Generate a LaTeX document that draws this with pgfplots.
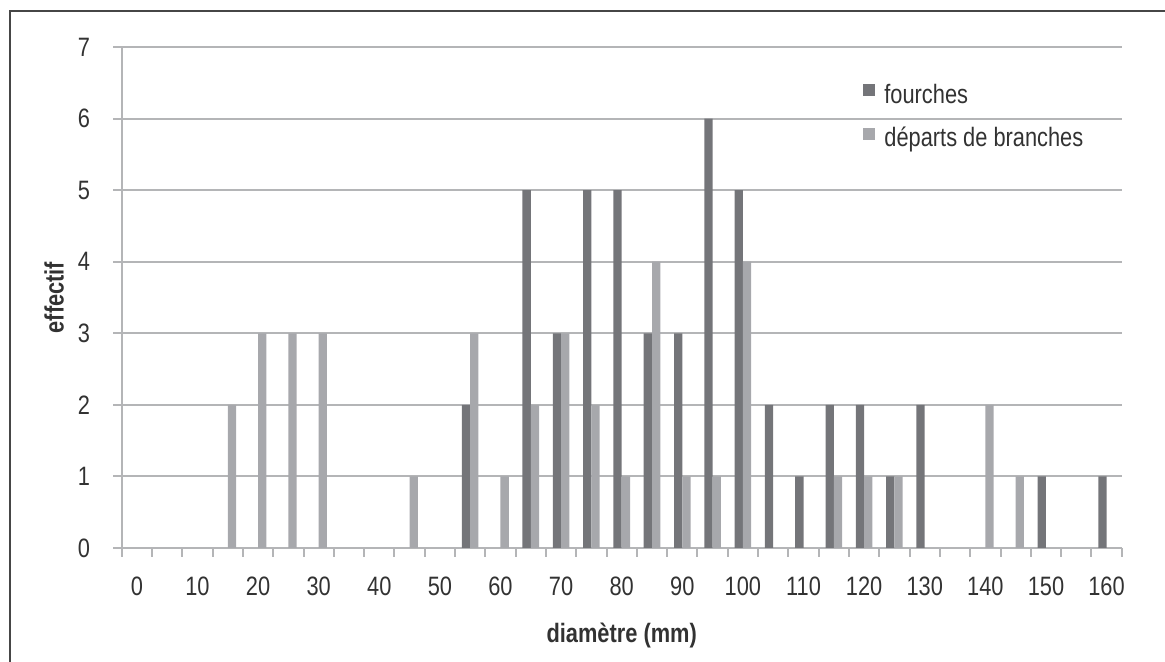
\documentclass[border=0pt]{standalone}
\usepackage{pgfplots}
\pgfplotsset{compat=1.18}
\usepackage{fontspec}
\setmainfont{Liberation Sans}[FakeStretch=0.82]
\definecolor{darkbar}{RGB}{116,117,121}
\definecolor{lightbar}{RGB}{167,168,172}
\definecolor{gridc}{RGB}{180,181,183}
\definecolor{txt}{RGB}{50,50,50}
\definecolor{framec}{RGB}{70,70,70}
\begin{document}
\begin{tikzpicture}[font=\fontsize{13.3pt}{15.5pt}\selectfont]
\path[use as bounding box] (-60.85pt,-57pt) rectangle (521.65pt,274pt);
\draw[framec, line width=0.8pt] (-55.85pt,-60pt) -- (-55.85pt,268.5pt) -- (525pt,268.5pt);
\begin{axis}[
  at={(0pt,0pt)}, anchor=south west,
  scale only axis, width=500pt, height=250.5pt,
  xmin=-2.5, xmax=162.5, ymin=0, ymax=7,
  ybar=0pt, bar width=4.15pt,
  axis x line*=bottom, axis y line*=left,
  axis line style={gridc, line width=1pt, -},
  xtick={0,10,...,160},
  minor xtick={-2.5,2.5,...,162.5},
  ytick={0,1,...,7},
  tick align=outside,
  major tick length=4.3pt, minor tick length=4.3pt,
  major x tick style={draw=none},
  minor x tick style={gridc, line width=1pt},
  major y tick style={gridc, line width=1pt},
  ymajorgrids, major grid style={gridc, line width=1pt},
  tick label style={text=txt},
  /pgf/number format/assume math mode=true,
  xticklabel style={anchor=center, yshift=-14.7pt},
  yticklabel style={anchor=east, xshift=-8pt},
  xlabel={\bfseries diamètre (mm)},
  ylabel={\bfseries effectif},
  every axis x label/.style={at={(axis description cs:0.5,-0.1756)}, anchor=center, text=txt},
  every axis y label/.style={at={(axis description cs:-0.0677,0.5)}, rotate=90, anchor=center, text=txt},
  legend style={at={(axis description cs:0.7413,0.858)}, anchor=west, draw=none, fill=none,
    inner sep=0pt, outer sep=0pt, row sep=9pt, column sep=4.5pt,
    nodes={inner sep=0pt, text=txt, text height=9.8pt, text depth=3pt}},
  legend cell align=left,
  legend image code/.code={\fill[#1] (0pt,0pt) rectangle (6.2pt,6.2pt);},
]
\addplot[fill=darkbar, draw=none] coordinates {
 (55,2) (65,5) (70,3) (75,5) (80,5) (85,3) (90,3) (95,6) (100,5) (105,2)
 (110,1) (115,2) (120,2) (125,1) (130,2) (150,1) (160,1)};
\addplot[fill=lightbar, draw=none] coordinates {
 (15,2) (20,3) (25,3) (30,3) (45,1) (55,3) (60,1) (65,2) (70,3) (75,2)
 (80,1) (85,4) (90,1) (95,1) (100,4) (115,1) (120,1) (125,1) (140,2) (145,1)};
\legend{fourches, départs de branches}
\end{axis}
\end{tikzpicture}
\end{document}
